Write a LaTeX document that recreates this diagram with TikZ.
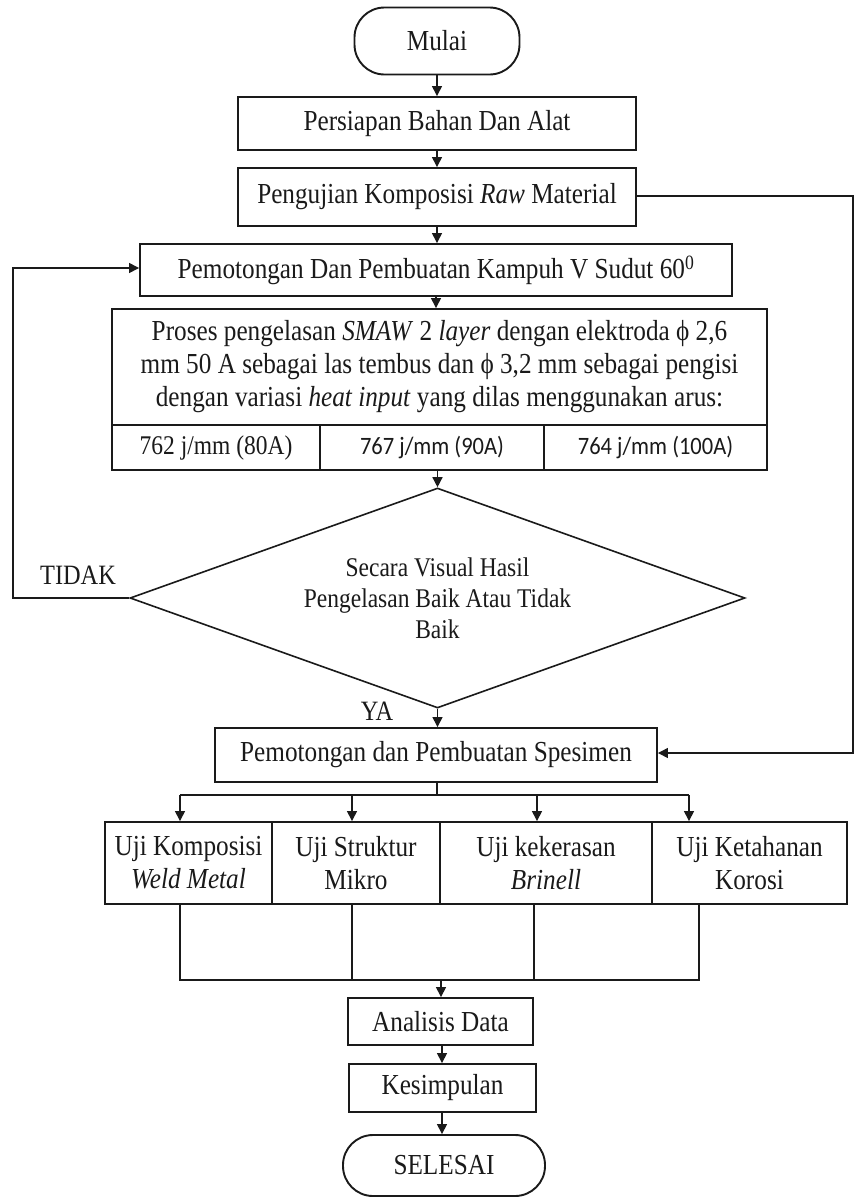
\documentclass[tikz,border=0pt]{standalone}
\usepackage{fontspec}
\setmainfont{Liberation Serif}[FakeStretch=0.87]
\newfontfamily\calfont{Carlito}[FakeStretch=0.9]
\usetikzlibrary{shapes.geometric,arrows.meta}
\definecolor{ink}{HTML}{1A1A1A}
\begin{document}
\begin{tikzpicture}[x=1pt,y=-1pt,
  every node/.style={text=ink, font=\rmfamily\fontsize{29}{33}\selectfont},
  box/.style={draw=ink, line width=1.9pt, rectangle, inner sep=0pt, align=center},
  term/.style={box, rounded corners=30pt},
  cellsans/.style={font=\calfont\fontsize{25}{30}\selectfont},
  conn/.style={draw=ink, line width=1.4pt},
  arr/.style={conn, -{Triangle[length=10pt,width=10pt]}},
  lbl/.style={inner sep=0pt, font=\rmfamily\fontsize{28}{31}\selectfont}
  ]
\fill[white] (0,0) rectangle (857,1197);
\useasboundingbox (0,0) rectangle (857,1197);

% nodes
\node[term, minimum width=165pt, minimum height=67pt] (mulai) at (437,41) {Mulai};
\node[box, minimum width=398pt, minimum height=53pt] (siap) at (437,123.5) {Persiapan Bahan Dan Alat};
\node[box, minimum width=398pt, minimum height=58pt] (uji) at (437,197) {Pengujian Komposisi \textit{Raw} Material};
\node[box, minimum width=592pt, minimum height=52pt] (kampuh) at (436,270) {Pemotongan Dan Pembuatan Kampuh V Sudut 60\textsuperscript{0}};
\node[box, minimum width=655pt, minimum height=116pt] (proses) at (439.5,367)
  {Proses pengelasan \textit{SMAW} 2 \textit{layer} dengan elektroda ϕ 2,6\\
   mm 50 A sebagai las tembus dan ϕ 3,2 mm sebagai pengisi\\
   dengan variasi \textit{heat input} yang dilas menggunakan arus:};
\node[box, minimum width=208pt, minimum height=45pt, font=\rmfamily\fontsize{27}{30}\selectfont] (c1) at (216,447.5) {762 j/mm (80A)};
\node[box, cellsans, minimum width=224pt, minimum height=45pt] (c2) at (432,447.5) {767 j/mm (90A)};
\node[box, cellsans, minimum width=223pt, minimum height=45pt] (c3) at (655.5,447.5) {764 j/mm (100A)};

\node[draw=ink, line width=1.6pt, diamond, aspect=2.8, minimum width=615pt, minimum height=220pt,
      inner sep=0pt, align=center, font=\rmfamily\fontsize{27}{31}\selectfont] (dec) at (437.5,598)
  {Secara Visual Hasil\\Pengelasan Baik Atau Tidak\\Baik};
\node[lbl] (tidak) at (78,575) {TIDAK};
\node[lbl] (ya) at (377,711) {YA};

\node[box, minimum width=442pt, minimum height=54pt] (spes) at (436,755) {Pemotongan dan Pembuatan Spesimen};

\node[box, minimum width=167pt, minimum height=82pt] (t1) at (188.5,863) {Uji Komposisi\\\textit{Weld Metal}};
\node[box, minimum width=168pt, minimum height=82pt] (t2) at (356,863) {Uji Struktur\\Mikro};
\node[box, minimum width=212pt, minimum height=82pt] (t3) at (546,863) {Uji kekerasan\\\textit{Brinell}};
\node[box, minimum width=195pt, minimum height=82pt] (t4) at (749.5,863) {Uji Ketahanan\\Korosi};

\node[box, minimum width=185pt, minimum height=47pt] (ana) at (440.5,1021.5) {Analisis Data};
\node[box, minimum width=187pt, minimum height=48pt] (kes) at (442.5,1088) {Kesimpulan};
\node[term, minimum width=202pt, minimum height=61pt] (selesai) at (444,1165.5) {SELESAI};

% connectors
\draw[arr] (mulai.south) -- (mulai.south |- siap.north);
\draw[arr] (siap.south) -- (siap.south |- uji.north);
\draw[arr] (uji.south) -- (uji.south |- kampuh.north);
\draw[arr] (kampuh.south) -- (kampuh.south |- proses.north);
\coordinate (pbot) at (437.5,470);
\draw[arr] (pbot) -- (dec.north);
\draw[arr] (dec.south) -- (dec.south |- spes.north);

% loop back (TIDAK)
\coordinate (lp1) at (13,598);
\coordinate (lp2) at (13,268);
\draw[arr] (dec.west) -- (lp1) -- (lp2) -- (lp2 -| kampuh.west);

% raw material bypass
\coordinate (rp1) at (853,196);
\coordinate (rp2) at (853,753);
\draw[arr] (uji.east |- rp1) -- (rp1) -- (rp2) -- (rp2 -| spes.east);

% distribution
\coordinate (sp) at (437,795);
\coordinate (d1) at (180,795);
\coordinate (d2) at (352,795);
\coordinate (d3) at (537,795);
\coordinate (d4) at (689,795);
\draw[conn] (spes.south -| sp) -- (sp);
\draw[conn] (d1) -- (d4);
\draw[arr] (d1) -- (d1 |- t1.north);
\draw[arr] (d2) -- (d2 |- t2.north);
\draw[arr] (d3) -- (d3 |- t3.north);
\draw[arr] (d4) -- (d4 |- t4.north);

% collection
\coordinate (e1) at (180,980);
\coordinate (e2) at (352,980);
\coordinate (e3) at (534,980);
\coordinate (e4) at (699,980);
\draw[conn] (e1 |- t1.south) -- (e1) -- (e4) -- (e4 |- t4.south);
\draw[conn] (e2 |- t2.south) -- (e2);
\draw[conn] (e3 |- t3.south) -- (e3);
\coordinate (cl) at (441,980);
\draw[arr] (cl) -- (cl |- ana.north);

\coordinate (ak) at (442,1045);
\draw[arr] (ana.south -| ak) -- (ak |- kes.north);
\draw[arr] (kes.south -| ak) -- (ak |- selesai.north);
\end{tikzpicture}
\end{document}
